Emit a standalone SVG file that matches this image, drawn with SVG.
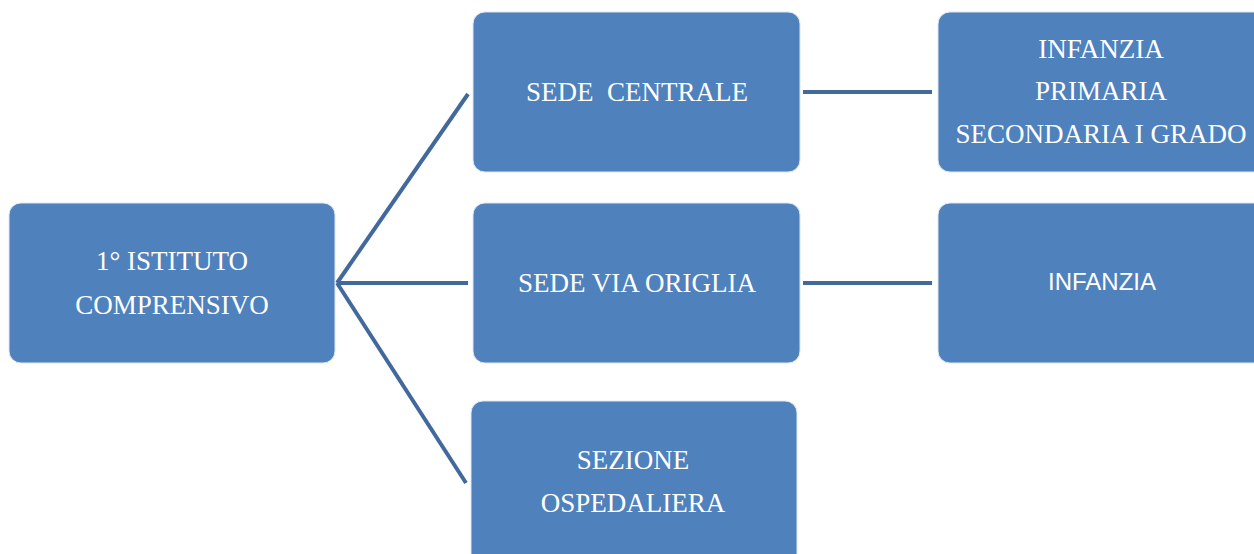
<svg xmlns="http://www.w3.org/2000/svg" width="1254" height="554" viewBox="0 0 1254 554">
<style>
.box{fill:#4F81BD;stroke:#DCE6F2;stroke-width:1}
.t{font-family:"Liberation Serif","DejaVu Serif",serif;font-size:27px;fill:#FFFFFF;text-anchor:middle}
.s{font-family:"Liberation Sans","DejaVu Sans",sans-serif;font-size:24px;fill:#FFFFFF;text-anchor:middle}
.c{stroke:#41699B;stroke-width:4;fill:none}
</style>
<rect width="1254" height="554" fill="#FFFFFF"/>
<g id="connectors">
<line class="c" x1="337" y1="283" x2="468" y2="94"/>
<line class="c" x1="337" y1="283" x2="468" y2="283"/>
<line class="c" x1="337" y1="283" x2="466" y2="483"/>
<line class="c" x1="803" y1="92" x2="932" y2="92"/>
<line class="c" x1="803" y1="283" x2="932" y2="283"/>
</g>
<g id="root">
<rect class="box" x="9" y="203" width="326" height="160" rx="12"/>
<text class="t" x="172" y="270">1° ISTITUTO</text>
<text class="t" x="172" y="314">COMPRENSIVO</text>
</g>
<g id="sede-centrale">
<rect class="box" x="473" y="12" width="327" height="160" rx="12"/>
<text class="t" x="637" y="101" xml:space="preserve">SEDE  CENTRALE</text>
</g>
<g id="sede-via-origlia">
<rect class="box" x="473" y="203" width="327" height="160" rx="12"/>
<text class="t" x="637" y="292">SEDE VIA ORIGLIA</text>
</g>
<g id="sezione-ospedaliera">
<rect class="box" x="471" y="401" width="326" height="170" rx="12"/>
<text class="t" x="633" y="469">SEZIONE</text>
<text class="t" x="633" y="512">OSPEDALIERA</text>
</g>
<g id="livelli-centrale">
<rect class="box" x="938" y="12" width="330" height="160" rx="12"/>
<text class="t" x="1101" y="58">INFANZIA</text>
<text class="t" x="1101" y="100">PRIMARIA</text>
<text class="t" x="1101" y="143">SECONDARIA I GRADO</text>
</g>
<g id="livelli-origlia">
<rect class="box" x="938" y="203" width="330" height="160" rx="12"/>
<text class="s" x="1102" y="290">INFANZIA</text>
</g>
</svg>
